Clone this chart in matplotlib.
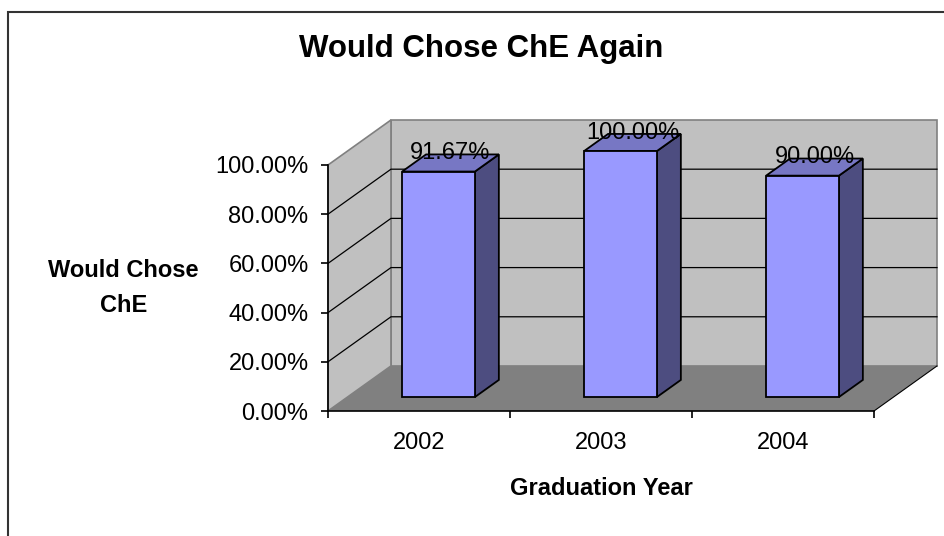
"""Would Chose ChE Again - Excel style 3D column chart."""
import matplotlib
matplotlib.use("Agg")
import matplotlib.pyplot as plt
from matplotlib.patches import Polygon, Rectangle

years = ["2002", "2003", "2004"]
values = [0.9167, 1.0, 0.90]
value_labels = ["91.67%", "100.00%", "90.00%"]
y_ticks = [0.0, 0.2, 0.4, 0.6, 0.8, 1.0]
y_tick_labels = ["0.00%", "20.00%", "40.00%", "60.00%", "80.00%", "100.00%"]

plt.rcParams['font.family'] = ['Liberation Sans', 'DejaVu Sans']

# depth offset of the back plane, in front-plane data units
DX, DY = 0.346, 0.183
Z0, Z1 = 0.31, 0.69      # bar front / back depth
HALF = 0.2               # half bar width (gap width 150%)

front = "#9999FF"
top = "#7777C4"
side = "#4D4D80"
wall = "#C0C0C0"
floor = "#808080"


def proj(x, y, z):
    return (x + z * DX, y + z * DY)


fig = plt.figure(figsize=(9.44, 5.36), dpi=100)
ax = fig.add_axes([328 / 944, 1 - 411 / 536, 546 / 944, 246 / 536])
ax.set_xlim(0, len(years))
ax.set_ylim(0, 1)
ax.patch.set_visible(False)

n = len(years)


def poly(pts, fc, ec, lw, z):
    ax.add_patch(Polygon(pts, closed=True, facecolor=fc, edgecolor=ec,
                         linewidth=lw, clip_on=False, zorder=z))


# walls and floor
poly([proj(0, 0, 1), proj(n, 0, 1), proj(n, 1, 1), proj(0, 1, 1)],
     wall, "#808080", 1.2, 0.5)
poly([proj(0, 0, 0), proj(0, 0, 1), proj(0, 1, 1), proj(0, 1, 0)],
     wall, "#808080", 1.2, 0.5)
poly([proj(0, 0, 0), proj(n, 0, 0), proj(n, 0, 1), proj(0, 0, 1)],
     floor, "none", 0, 0.6)
ax.plot(*zip(proj(n, 0, 0), proj(n, 0, 1)), color="black", lw=0.8,
        clip_on=False, zorder=0.7)

# gridlines across left wall and back wall
for g in y_ticks[1:-1]:
    pts = [proj(0, g, 0), proj(0, g, 1), proj(n, g, 1)]
    ax.plot(*zip(*pts), color="black", lw=0.9, clip_on=False, zorder=0.8)

# bars
for i, v in enumerate(values):
    xl, xr = i + 0.5 - HALF, i + 0.5 + HALF
    poly([proj(xr, 0, Z0), proj(xr, 0, Z1), proj(xr, v, Z1), proj(xr, v, Z0)],
         side, "black", 1.3, 3)
    poly([proj(xl, v, Z0), proj(xr, v, Z0), proj(xr, v, Z1), proj(xl, v, Z1)],
         top, "black", 1.3, 3)
    poly([proj(xl, 0, Z0), proj(xr, 0, Z0), proj(xr, v, Z0), proj(xl, v, Z0)],
         front, "black", 1.3, 3)
    ax.annotate(value_labels[i], xy=proj(i + 0.5, v, 0.5), xytext=(0, 7),
                textcoords="offset points", ha="center", va="center",
                fontsize=17, zorder=5, annotation_clip=False)

# axes
for s in ["top", "right"]:
    ax.spines[s].set_visible(False)
for s in ["left", "bottom"]:
    ax.spines[s].set_color("black")
    ax.spines[s].set_linewidth(1.2)
    ax.spines[s].set_zorder(4)

ax.set_yticks(y_ticks)
ax.set_yticklabels(y_tick_labels)
ax.tick_params(axis="y", direction="out", length=5, width=1.2, pad=9,
               labelsize=17)

ax.set_xticks(range(n + 1))
ax.set_xticklabels([])
ax.set_xticks([i + 0.5 for i in range(n)], minor=True)
ax.set_xticklabels(years, minor=True)
ax.tick_params(axis="x", which="major", direction="out", length=5, width=1.2)
ax.tick_params(axis="x", which="minor", length=0, pad=15, labelsize=17)

ax.set_xlabel("Graduation Year", fontsize=17, fontweight="bold")
ax.xaxis.set_label_coords(0.5, -0.27)
ax.set_ylabel("Would Chose\nChE", fontsize=17, fontweight="bold",
              rotation=0, ha="center", va="center", linespacing=1.65)
ax.yaxis.set_label_coords(-0.375, 0.5)

fig.text(481 / 944, 1 - 49 / 536, "Would Chose ChE Again", fontsize=22.5,
         fontweight="bold", ha="center", va="center")

# chart area border
fig.patches.append(Rectangle((8 / 944, -0.1), 1.2, 1 - 12 / 536 + 0.1,
                             transform=fig.transFigure, fill=False,
                             edgecolor="#333333", linewidth=1.5))

fig.savefig("out.png", dpi=100)
